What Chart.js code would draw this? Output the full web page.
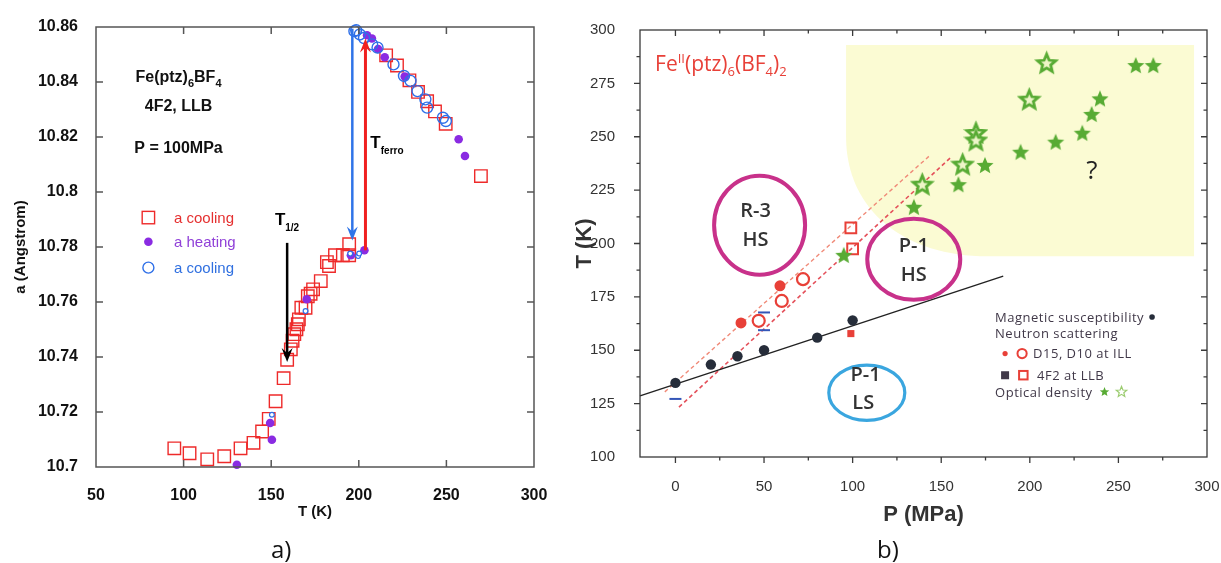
<!DOCTYPE html>
<html>
<head>
<meta charset="utf-8">
<script src="https://cdn.jsdelivr.net/npm/chart.js@4.4.1/dist/chart.umd.min.js"></script>
<style>
  html, body { margin: 0; padding: 0; background: #fff; }
  body { width: 1221px; height: 563px; position: relative; overflow: hidden; }
  #left { position: absolute; left: 0; top: 0; width: 560px; height: 563px; }
  #right { position: absolute; left: 570px; top: 0; width: 651px; height: 563px; }
  .cap { position: absolute; top: 537px; font: 24px/24px 'Open Sans', sans-serif; color: #111; }
</style>
</head>
<body>
<div id="left"><canvas id="cLeft"></canvas></div>
<div id="right"><canvas id="cRight"></canvas></div>
<div class="cap" style="left:271px">a)</div>
<div class="cap" style="left:877px">b)</div>
<script>
// ---- panel a) : lattice parameter vs temperature ----
const coolT = [94.7, 103.4, 113.5, 123.2, 132.5, 139.9, 144.8, 148.6, 152.5, 157.1, 159.1, 161.2, 162.2, 163.2,
  164.4, 165.2, 165.8, 167.2, 169.6, 170.9, 172.5, 173.9, 178.3, 181.8, 183.0, 186.4, 190.9, 194.5, 194.5,
  215.6, 221.8, 228.9, 233.8, 239.0, 243.5, 249.6, 269.7];
const coolA = [10.7068, 10.7050, 10.7028, 10.7039, 10.7068, 10.7088, 10.7129, 10.7175, 10.7239, 10.7323, 10.7390,
  10.7428, 10.7459, 10.7483, 10.7501, 10.7519, 10.7537, 10.7579, 10.7579, 10.7621, 10.7630, 10.7646, 10.7676,
  10.7745, 10.7731, 10.7770, 10.7770, 10.7770, 10.7810, 10.8497, 10.8460, 10.8406, 10.8364, 10.8330, 10.8293,
  10.8248, 10.8058];
const heatT = [130.4, 150.4, 149.4, 170.3, 195.5, 203.2, 204.7, 207.5, 211.0, 214.8, 226.2, 257.0, 260.6];
const heatA = [10.7008, 10.7099, 10.7160, 10.7610, 10.7770, 10.7788, 10.8570, 10.8558, 10.8520, 10.8490, 10.8420,
  10.8192, 10.8131];
const cool2T = [197.5, 198.5, 200.6, 203.0, 207.6, 210.7, 219.8, 225.8, 229.5, 233.5, 238.0, 239.0, 248.0, 249.7];
const cool2A = [10.8585, 10.8588, 10.8573, 10.8560, 10.8537, 10.8525, 10.8464, 10.8422, 10.8404, 10.8367, 10.8337,
  10.8307, 10.8270, 10.8258];
const cool2SmallT = [150.4, 169.6, 195.1, 199.6, 200.2];
const cool2SmallA = [10.7190, 10.7567, 10.7776, 10.7767, 10.7776];
const leftXTicks = [50, 100, 150, 200, 250, 300];
const leftYTicks = [10.7, 10.72, 10.74, 10.76, 10.78, 10.8, 10.82, 10.84, 10.86];

// ---- panel b) : phase diagram T vs P ----
const magP = [0, 20, 35, 50, 80, 100];
const magT = [134.7, 143.3, 147.2, 150.0, 155.9, 164.0];
const fitP = [-20, 185];
const fitT = [128.6, 184.7];
const d15P = [37, 59];
const d15T = [162.8, 180.2];
const d10P = [47, 60, 72];
const d10T = [163.8, 173.1, 183.3];
const llbFillP = [99];
const llbFillT = [157.8];
const llbOpenP = [99, 100];
const llbOpenT = [207.3, 197.5];
const barP = [0, 50, 50];
const barT = [127.2, 167.7, 159.4];
const guideUpP = [-6, 143];
const guideUpT = [130.5, 240.8];
const guideLoP = [2, 155];
const guideLoT = [123.4, 240.0];
const starFillP = [95, 134.6, 159.7, 174.7, 194.8, 214.6, 229.6, 234.9, 239.6, 259.8, 269.7];
const starFillT = [194.7, 217.2, 227.8, 236.8, 243.0, 247.7, 251.9, 260.7, 268.0, 283.6, 283.6];
const starOpenP = [139.3, 162.1, 169.6, 169.6, 199.7, 209.5];
const starOpenT = [227.8, 237.2, 252.0, 248.5, 267.6, 284.7];
const rightXTicks = [0, 50, 100, 150, 200, 250, 300];
const rightXMinor = [25, 75, 125, 175, 225, 275];
const rightYTicks = [100, 125, 150, 175, 200, 225, 250, 275, 300];
const rightYMinor = [112.5, 137.5, 162.5, 187.5, 212.5, 237.5, 262.5, 287.5];

const RED = '#ee2a2a', PURPLE = '#8a2be2', BLUE = '#2e6fe8';
const RRED = '#e84038', GREEN = '#58ab34', MAGENTA = '#c8318a', CYAN = '#3aa6df';
const SANS = "'Liberation Sans', Arial, sans-serif";
const OPEN = "'Open Sans', sans-serif";

Chart.defaults.font.family = SANS;
Chart.defaults.animation = false;

function pts(xs, ys) { return xs.map((x, i) => ({ x, y: ys[i] })); }

// parts: [text, size, dy, weight, family]
function rich(ctx, x, y, parts, align, color, spacing) {
  const font = p => `${p[3] || 'normal'} ${p[1]}px ${p[4] || SANS}`;
  ctx.letterSpacing = (spacing || 0) + 'px';
  let w = 0;
  parts.forEach(p => { ctx.font = font(p); w += ctx.measureText(p[0]).width; });
  let cx = align === 'center' ? x - w / 2 : x;
  const base = y + parts[0][1] * 0.36;
  ctx.textAlign = 'left';
  ctx.textBaseline = 'alphabetic';
  ctx.fillStyle = color;
  parts.forEach(p => {
    ctx.font = font(p);
    ctx.fillText(p[0], cx, base + (p[2] || 0));
    cx += ctx.measureText(p[0]).width;
  });
  ctx.letterSpacing = '0px';
  return cx;
}

function arrow(ctx, x, y1, y2, color, lw) {
  const dir = Math.sign(y2 - y1);
  ctx.strokeStyle = color; ctx.fillStyle = color; ctx.lineWidth = lw;
  ctx.beginPath(); ctx.moveTo(x, y1); ctx.lineTo(x, y2 - dir * 8); ctx.stroke();
  ctx.beginPath();
  ctx.moveTo(x, y2);
  ctx.lineTo(x - 5.5, y2 - dir * 14);
  ctx.lineTo(x, y2 - dir * 9);
  ctx.lineTo(x + 5.5, y2 - dir * 14);
  ctx.closePath(); ctx.fill();
}

function starPath(ctx, cx, cy, R, r) {
  ctx.beginPath();
  for (let i = 0; i < 10; i++) {
    const ang = -Math.PI / 2 + i * Math.PI / 5;
    const rad = i % 2 ? r : R;
    ctx.lineTo(cx + rad * Math.cos(ang), cy + rad * Math.sin(ang));
  }
  ctx.closePath();
}

function starImage(R, filled) {
  const c = document.createElement('canvas');
  c.width = c.height = Math.ceil(2 * R + 6);
  const g = c.getContext('2d');
  starPath(g, c.width / 2, c.height / 2 + 1, R, R * 0.45);
  if (filled) { g.fillStyle = GREEN; g.fill(); }
  else { g.fillStyle = '#eef5c8'; g.fill(); g.lineWidth = 2.8; g.strokeStyle = GREEN; g.stroke(); }
  return c;
}

// box frame with tick marks on all four sides
function makeFrame(cfg) {
  return {
    id: 'frame',
    afterDatasetsDraw(chart) {
      const { ctx, chartArea: a, scales: { x, y } } = chart;
      ctx.save();
      ctx.strokeStyle = cfg.color; ctx.lineWidth = cfg.width;
      ctx.strokeRect(a.left, a.top, a.right - a.left, a.bottom - a.top);
      ctx.beginPath();
      const xm = (v, len) => {
        if (v <= x.min || v >= x.max) return;
        const p = x.getPixelForValue(v);
        ctx.moveTo(p, a.bottom); ctx.lineTo(p, a.bottom + (cfg.outBottom ? len : -len));
        ctx.moveTo(p, a.top); ctx.lineTo(p, a.top + len);
      };
      const ym = (v, len) => {
        if (v <= y.min || v >= y.max) return;
        const p = y.getPixelForValue(v);
        ctx.moveTo(a.left, p); ctx.lineTo(a.left + (cfg.outLeft ? -len : len), p);
        ctx.moveTo(a.right, p); ctx.lineTo(a.right - len, p);
      };
      cfg.xMajor.forEach(v => xm(v, cfg.len));
      (cfg.xMinor || []).forEach(v => xm(v, cfg.minorLen));
      cfg.yMajor.forEach(v => ym(v, cfg.len));
      (cfg.yMinor || []).forEach(v => ym(v, cfg.minorLen));
      ctx.stroke();
      ctx.restore();
    }
  };
}

const leftNotes = {
  id: 'leftNotes',
  afterDatasetsDraw(chart) {
    const { ctx, scales: { x, y } } = chart;
    const X = v => x.getPixelForValue(v), Y = v => y.getPixelForValue(v);
    ctx.save();
    rich(ctx, X(97.1), Y(10.8421), [['Fe(ptz)', 16, 0, 'bold'], ['6', 11, 5, 'bold'], ['BF', 16, 0, 'bold'], ['4', 11, 5, 'bold']], 'center', '#111');
    rich(ctx, X(97.1), Y(10.8316), [['4F2, LLB', 16, 0, 'bold']], 'center', '#111');
    rich(ctx, X(97.1), Y(10.8164), [['P = 100MPa', 16, 0, 'bold']], 'center', '#111');

    // legend
    const lx = X(79.9), tx = X(94.5);
    ctx.lineWidth = 1.4; ctx.strokeStyle = RED;
    ctx.strokeRect(lx - 6.2, Y(10.7907) - 6.2, 12.4, 12.4);
    rich(ctx, tx, Y(10.7907), [['a cooling', 15]], 'left', '#e53030');
    ctx.fillStyle = PURPLE;
    ctx.beginPath(); ctx.arc(lx, Y(10.7819), 4.3, 0, Math.PI * 2); ctx.fill();
    rich(ctx, tx, Y(10.7819), [['a heating', 15]], 'left', '#9040d8');
    ctx.strokeStyle = BLUE;
    ctx.beginPath(); ctx.arc(lx, Y(10.7725), 5.5, 0, Math.PI * 2); ctx.stroke();
    rich(ctx, tx, Y(10.7725), [['a cooling', 15]], 'left', '#3070e0');

    // transition arrows
    arrow(ctx, X(159.1), Y(10.7815), Y(10.7382), '#000', 2.5);
    arrow(ctx, X(196.3), Y(10.8594), Y(10.7824), '#2f74e8', 2.5);
    arrow(ctx, X(203.8), Y(10.7788), Y(10.8558), '#f02020', 3);
    rich(ctx, X(152.1), Y(10.7903), [['T', 17, 0, 'bold'], ['1/2', 10, 6, 'bold']], 'left', '#000');
    rich(ctx, X(206.6), Y(10.8182), [['T', 17, 0, 'bold'], ['ferro', 10, 6, 'bold']], 'left', '#000');
    ctx.restore();
  }
};

const rightBack = {
  id: 'rightBack',
  beforeDatasetsDraw(chart) {
    const { ctx, scales: { x, y } } = chart;
    const X = v => x.getPixelForValue(v), Y = v => y.getPixelForValue(v);
    ctx.save();
    ctx.fillStyle = '#fbfbd3';
    ctx.beginPath();
    ctx.moveTo(X(96.3), Y(293));
    ctx.lineTo(X(292.7), Y(293));
    ctx.lineTo(X(292.7), Y(194));
    ctx.lineTo(X(176), Y(194));
    ctx.bezierCurveTo(X(130), Y(194), X(96.3), Y(215), X(96.3), Y(250));
    ctx.closePath();
    ctx.fill();
    ctx.restore();
  }
};

const rightNotes = {
  id: 'rightNotes',
  afterDatasetsDraw(chart) {
    const { ctx, scales: { x, y } } = chart;
    const X = v => x.getPixelForValue(v), Y = v => y.getPixelForValue(v);
    ctx.save();
    const ell = (p, t, rx, ry, col, lw) => {
      ctx.strokeStyle = col; ctx.lineWidth = lw;
      ctx.beginPath(); ctx.ellipse(X(p), Y(t), rx, ry, 0, 0, Math.PI * 2); ctx.stroke();
    };
    ell(47.5, 208.6, 45.5, 49.5, MAGENTA, 4);
    ell(134.5, 192.6, 46.5, 40.5, MAGENTA, 4);
    ell(108, 130.1, 38, 27.7, CYAN, 3.2);
    const lab = (s, p, t) => rich(ctx, X(p), Y(t), [[s, 20, 0, '600', OPEN]], 'center', '#333');
    lab('R-3', 45.2, 215.6); lab('HS', 45.2, 202.4);
    lab('P-1', 134.5, 199.3); lab('HS', 134.5, 186);
    lab('P-1', 107.3, 139.1); lab('LS', 106, 125.8);
    rich(ctx, X(235), Y(234.6), [['?', 26, 0, 'normal', OPEN]], 'center', '#222');

    rich(ctx, X(-11.5), Y(284.5), [['Fe', 21, 0, 'normal', OPEN], ['II', 13, -8, 'normal', OPEN], ['(ptz)', 21, 0, 'normal', OPEN],
      ['6', 13, 5, 'normal', OPEN], ['(BF', 21, 0, 'normal', OPEN], ['4', 13, 5, 'normal', OPEN], [')', 21, 0, 'normal', OPEN],
      ['2', 13, 5, 'normal', OPEN]], 'left', RRED);

    // legend block
    const gx = X(180.4), gy = Y(165.6);
    const col = '#403848';
    const end = rich(ctx, gx, gy, [['Magnetic susceptibility', 13, 0, 'normal', OPEN]], 'left', col, 0.5);
    ctx.fillStyle = '#262d3a';
    ctx.beginPath(); ctx.arc(end + 8, gy, 2.8, 0, Math.PI * 2); ctx.fill();
    rich(ctx, gx, gy + 16.6, [['Neutron scattering', 13, 0, 'normal', OPEN]], 'left', col, 0.5);
    ctx.fillStyle = RRED;
    ctx.beginPath(); ctx.arc(gx + 10, gy + 36.6, 2.6, 0, Math.PI * 2); ctx.fill();
    ctx.strokeStyle = RRED; ctx.lineWidth = 2;
    ctx.beginPath(); ctx.arc(gx + 27, gy + 36.6, 4.6, 0, Math.PI * 2); ctx.stroke();
    rich(ctx, gx + 38, gy + 36.6, [['D15, D10 at ILL', 13, 0, 'normal', OPEN]], 'left', col, 0.5);
    ctx.fillRect(gx + 6, gy + 54.3, 8, 8);
    ctx.strokeRect(gx + 24, gy + 54, 8.5, 8.5);
    rich(ctx, gx + 42, gy + 58.3, [['4F2 at LLB', 13, 0, 'normal', OPEN]], 'left', col, 0.5);
    const e2 = rich(ctx, gx, gy + 75, [['Optical density', 13, 0, 'normal', OPEN]], 'left', col, 0.5);
    ctx.fillStyle = GREEN;
    starPath(ctx, e2 + 12, gy + 75, 5, 2.2); ctx.fill();
    ctx.strokeStyle = '#9ccc70'; ctx.lineWidth = 1.2;
    starPath(ctx, e2 + 29, gy + 75, 5.5, 2.4); ctx.stroke();
    ctx.restore();
  }
};

new Chart(document.getElementById('cLeft'), {
  type: 'scatter',
  data: {
    datasets: [
      { label: 'a cooling', data: pts(cool2T, cool2A), pointStyle: 'circle', pointRadius: 5.5, borderWidth: 1.4,
        borderColor: BLUE, backgroundColor: 'transparent', clip: false },
      { label: 'a cooling', data: pts(cool2SmallT, cool2SmallA), pointStyle: 'circle', pointRadius: 2.4, borderWidth: 1.2,
        borderColor: BLUE, backgroundColor: '#fff', clip: false },
      { label: 'a heating', data: pts(heatT, heatA), pointStyle: 'circle', pointRadius: 4.3, borderWidth: 0,
        borderColor: PURPLE, backgroundColor: PURPLE, clip: false },
      { label: 'a cooling', data: pts(coolT, coolA), pointStyle: 'rect', pointRadius: 8.8, borderWidth: 1.4,
        borderColor: RED, backgroundColor: 'transparent', clip: false }
    ]
  },
  options: {
    responsive: true, maintainAspectRatio: false, events: [],
    layout: { padding: { top: 27, right: 26, left: 0, bottom: 0 } },
    plugins: { legend: { display: false }, tooltip: { enabled: false } },
    scales: {
      x: {
        type: 'linear', min: 50, max: 300,
        afterBuildTicks: s => { s.ticks = leftXTicks.map(v => ({ value: v })); },
        afterFit: s => { s.height = 96; s.paddingLeft = 0; s.paddingRight = 0; },
        grid: { display: false }, border: { display: false },
        ticks: { padding: 11, color: '#111', font: { size: 16, weight: 'bold' } },
        title: { display: true, text: 'T (K)', color: '#111', font: { size: 15, weight: 'bold' }, padding: { top: 0, bottom: 42 } }
      },
      y: {
        type: 'linear', min: 10.7, max: 10.86,
        afterBuildTicks: s => { s.ticks = leftYTicks.map(v => ({ value: v })); },
        afterFit: s => { s.width = 96; s.paddingTop = 0; s.paddingBottom = 0; },
        grid: { display: false }, border: { display: false },
        ticks: { padding: 10, color: '#111', font: { size: 16, weight: 'bold' }, callback: v => String(+v.toFixed(2)) },
        title: { display: true, text: 'a (Angstrom)', color: '#111', font: { size: 15, weight: 'bold' }, padding: { top: 12, bottom: 0 } }
      }
    }
  },
  plugins: [makeFrame({ color: '#555', width: 1.5, len: 7, minorLen: 0, xMajor: leftXTicks, yMajor: leftYTicks }), leftNotes]
});

new Chart(document.getElementById('cRight'), {
  type: 'scatter',
  data: {
    datasets: [
      { label: 'Optical density (open)', data: pts(starOpenP, starOpenT), pointStyle: starImage(9.5, false), clip: false },
      { label: 'Optical density', data: pts(starFillP, starFillT), pointStyle: starImage(9, true), clip: false },
      { label: 'Magnetic susceptibility', data: pts(magP, magT), pointRadius: 5.2, borderWidth: 0,
        backgroundColor: '#262d3a', clip: false },
      { label: 'D15 at ILL', data: pts(d15P, d15T), pointRadius: 5.5, borderWidth: 0, backgroundColor: RRED, clip: false },
      { label: 'D10 at ILL', data: pts(d10P, d10T), pointRadius: 6, borderWidth: 2.2, borderColor: RRED,
        backgroundColor: '#fff', clip: false },
      { label: '4F2 at LLB', data: pts(llbFillP, llbFillT), pointStyle: 'rect', pointRadius: 5, borderWidth: 0,
        backgroundColor: RRED, clip: false },
      { label: '4F2 at LLB (open)', data: pts(llbOpenP, llbOpenT), pointStyle: 'rect', pointRadius: 7.6, borderWidth: 2,
        borderColor: RRED, backgroundColor: 'transparent', clip: false },
      { label: 'bars', data: pts(barP, barT), pointStyle: 'line', pointRadius: 6, borderWidth: 2,
        borderColor: '#3456b8', clip: false },
      { type: 'line', label: 'fit', data: pts(fitP, fitT), showLine: true, borderColor: '#222', borderWidth: 1.4,
        pointRadius: 0, clip: false },
      { type: 'line', label: 'guide 1', data: pts(guideUpP, guideUpT), showLine: true, borderColor: '#f08a78',
        borderDash: [4, 3], borderWidth: 1.4, pointRadius: 0 },
      { type: 'line', label: 'guide 2', data: pts(guideLoP, guideLoT), showLine: true, borderColor: '#e4505a',
        borderDash: [4, 3], borderWidth: 1.6, pointRadius: 0 }
    ]
  },
  options: {
    responsive: true, maintainAspectRatio: false, events: [],
    layout: { padding: { top: 30, right: 14, left: 0, bottom: 0 } },
    plugins: { legend: { display: false }, tooltip: { enabled: false } },
    scales: {
      x: {
        type: 'linear', min: -20, max: 300,
        afterBuildTicks: s => { s.ticks = rightXTicks.map(v => ({ value: v })); },
        afterFit: s => { s.height = 106; s.paddingLeft = 0; s.paddingRight = 0; },
        grid: { display: false }, border: { display: false },
        ticks: { padding: 13, color: '#333', font: { size: 15 } },
        title: { display: true, text: 'P (MPa)', color: '#333', font: { size: 22, weight: 'bold' }, padding: { top: 0, bottom: 35 } }
      },
      y: {
        type: 'linear', min: 100, max: 300,
        afterBuildTicks: s => { s.ticks = rightYTicks.map(v => ({ value: v })); },
        afterFit: s => { s.width = 70; s.paddingTop = 0; s.paddingBottom = 0; },
        grid: { display: false }, border: { display: false },
        ticks: { padding: 17, color: '#333', font: { size: 15 } },
        title: { display: true, text: 'T (K)', color: '#333', font: { size: 22, weight: 'bold' }, padding: { top: 2, bottom: 0 } }
      }
    }
  },
  plugins: [rightBack,
    makeFrame({ color: '#3a3a3a', width: 1.3, len: 6, minorLen: 3.5, outLeft: true, outBottom: true,
      xMajor: rightXTicks, xMinor: rightXMinor, yMajor: rightYTicks, yMinor: rightYMinor }),
    rightNotes]
});
</script>
</body>
</html>
